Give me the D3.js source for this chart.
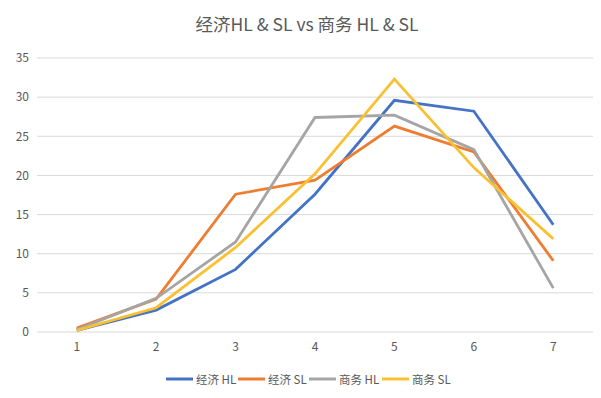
<!DOCTYPE html>
<html lang="zh">
<head>
<meta charset="UTF-8">
<title>经济HL & SL vs 商务 HL & SL</title>
<script src="https://cdn.jsdelivr.net/npm/d3@7"></script>
<style>
  body { margin: 0; background: #fff; }
  text { font-family: "Noto Sans CJK SC", "Noto Sans", sans-serif; fill: #595959; }
</style>
</head>
<body>
<script>
var categories = [1, 2, 3, 4, 5, 6, 7];
var seriesNames = ["经济 HL", "经济 SL", "商务 HL", "商务 SL"];
var econHL = [0.2, 2.8, 8.0, 17.6, 29.6, 28.2, 13.7];
var econSL = [0.5, 4.2, 17.6, 19.4, 26.3, 23.0, 9.1];
var bizHL = [0.3, 4.3, 11.5, 27.4, 27.7, 23.3, 5.6];
var bizSL = [0.2, 3.1, 10.8, 20.2, 32.3, 21.0, 11.9];
var yTicks = [0, 5, 10, 15, 20, 25, 30, 35];
var colors = ["#4472C4", "#ED7D31", "#A5A5A5", "#F9C131"];

var w = 601, h = 398;
var plotLeft = 37, plotRight = 593, plotTop = 58, plotBottom = 332;

var svg = d3.select("body").append("svg")
    .attr("width", w)
    .attr("height", h);

svg.append("text")
    .attr("x", 307)
    .attr("y", 31)
    .attr("text-anchor", "middle")
    .attr("font-size", "17.5px")
    .text("经济HL & SL vs 商务 HL & SL");

var x = d3.scaleBand()
    .domain(categories)
    .range([plotLeft, plotRight]);

var y = d3.scaleLinear()
    .domain([0, 35])
    .range([plotBottom, plotTop]);

// gridlines
svg.append("g")
    .selectAll("line")
    .data(yTicks)
    .enter()
    .append("line")
    .attr("x1", plotLeft)
    .attr("x2", plotRight)
    .attr("y1", function(d) { return y(d); })
    .attr("y2", function(d) { return y(d); })
    .attr("stroke", "#d9d9d9")
    .attr("stroke-width", 1);

var yAxis = svg.append("g")
    .attr("transform", "translate(" + (plotLeft - 8) + ",0)")
    .call(d3.axisLeft(y).tickValues(yTicks).tickSize(0).tickPadding(0));
yAxis.select(".domain").remove();
yAxis.selectAll("text").attr("font-size", "12px").attr("fill", "#595959").attr("font-family", "Noto Sans CJK SC");

var xAxis = svg.append("g")
    .attr("transform", "translate(0," + (plotBottom + 10) + ")")
    .call(d3.axisBottom(x).tickSize(0).tickPadding(0));
xAxis.select(".domain").remove();
xAxis.selectAll("text").attr("font-size", "12px").attr("fill", "#595959").attr("font-family", "Noto Sans CJK SC");

var allSeries = [econHL, econSL, bizHL, bizSL];

var line = d3.line()
    .x(function(d, i) { return x(categories[i]) + x.bandwidth() / 2; })
    .y(function(d) { return y(d); });

svg.append("g")
    .selectAll("path")
    .data(allSeries)
    .enter()
    .append("path")
    .attr("d", line)
    .attr("fill", "none")
    .attr("stroke", function(d, i) { return colors[i]; })
    .attr("stroke-width", 2.8)
    .attr("stroke-linejoin", "miter");

// legend
var legendX = [166, 238, 309, 382];
var legend = svg.append("g")
    .selectAll("g")
    .data(seriesNames)
    .enter()
    .append("g")
    .attr("transform", function(d, i) { return "translate(" + legendX[i] + ",379)"; });

legend.append("line")
    .attr("x1", 0)
    .attr("x2", 27)
    .attr("stroke", function(d, i) { return colors[i]; })
    .attr("stroke-width", 3);

legend.append("text")
    .attr("x", 30)
    .attr("y", 4.5)
    .attr("font-size", "11.5px")
    .text(function(d) { return d; });
</script>
</body>
</html>
